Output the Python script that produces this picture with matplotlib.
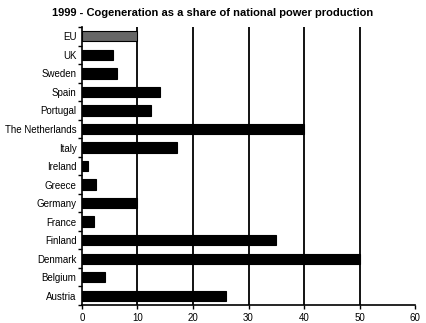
import matplotlib
matplotlib.use("Agg")
import matplotlib.pyplot as plt
import numpy as np

plt.rcParams['font.family'] = ['Liberation Sans', 'DejaVu Sans']

# share of cogeneration in national power production, 1999 (%)
countries = ["EU", "UK", "Sweden", "Spain", "Portugal", "The Netherlands",
             "Italy", "Ireland", "Greece", "Germany", "France", "Finland",
             "Denmark", "Belgium", "Austria"]
shares = [10, 5.6, 6.3, 14, 12.5, 40, 17.1, 1.1, 2.6, 10, 2.2, 35, 50, 4.1, 26]
x_ticks = [0, 10, 20, 30, 40, 50, 60]

fig = plt.figure(figsize=(4.27, 3.23), dpi=100)
ax = fig.add_axes([0.192, 0.056, 0.78, 0.86])

pos = np.arange(len(countries))
colors = ['#666666' if c == "EU" else 'black' for c in countries]
ax.barh(pos, shares, height=0.55, color=colors, edgecolor='black',
        linewidth=0.8, zorder=3)

ax.set_ylim(len(countries) - 0.5, -0.5)
ax.set_xlim(0, 60)
ax.set_xticks(x_ticks)
ax.set_yticks(pos)
ax.set_yticklabels(countries)
ax.set_yticks(np.arange(-0.5, len(countries)), minor=True)
ax.tick_params(axis='y', which='major', length=0, pad=4, labelsize=7)
ax.tick_params(axis='y', which='minor', length=3, width=1, direction='out')
ax.tick_params(axis='x', length=3, width=1, direction='out', labelsize=7, pad=3)

# vertical grid lines, none at the right edge
ax.grid(axis='x', color='black', linewidth=1.3, zorder=1)
ax.set_axisbelow(True)
ax.xaxis.get_gridlines()[0].set_visible(False)
ax.xaxis.get_gridlines()[-1].set_visible(False)

for s in ['top', 'right']:
    ax.spines[s].set_visible(False)
ax.spines['left'].set_linewidth(1.2)
ax.spines['bottom'].set_linewidth(1.2)

fig.suptitle("1999 - Cogeneration as a share of national power production",
             fontsize=8, fontweight='bold', x=0.497, y=0.975)

fig.savefig("out.png", dpi=100)
